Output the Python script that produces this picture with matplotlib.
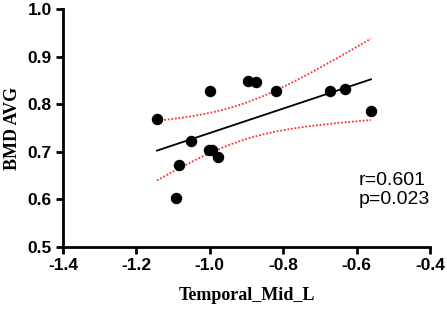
import numpy as np
import matplotlib
matplotlib.use("Agg")
import matplotlib.pyplot as plt

temporal_mid_l = [-1.144, -1.052, -1.000, -0.897, -0.875, -0.820, -0.672, -0.631,
                  -0.561, -1.003, -0.994, -0.977, -1.084, -1.093]
bmd_avg = [0.769, 0.723, 0.828, 0.848, 0.846, 0.828, 0.828, 0.831,
           0.786, 0.704, 0.704, 0.690, 0.673, 0.602]
x_ticks = [-1.4, -1.2, -1.0, -0.8, -0.6, -0.4]
y_ticks = [0.5, 0.6, 0.7, 0.8, 0.9, 1.0]
stats_text = "r=0.601\np=0.023"

x = np.array(temporal_mid_l)
y = np.array(bmd_avg)
n = len(x)
slope, intercept = np.polyfit(x, y, 1)
xs = np.linspace(x.min(), x.max(), 200)
ys = slope * xs + intercept
resid = y - (slope * x + intercept)
s = np.sqrt(np.sum(resid ** 2) / (n - 2))
sxx = np.sum((x - x.mean()) ** 2)
tval = 2.179  # t(0.975, df=12)
se = s * np.sqrt(1.0 / n + (xs - x.mean()) ** 2 / sxx)

fig = plt.figure(figsize=(4.47, 3.11), dpi=100)
ax = fig.add_axes([0.141, 0.206, 0.821, 0.765])

ax.plot(xs, ys + tval * se, linestyle=(0, (1, 1)), color="#ff3030", lw=1.3)
ax.plot(xs, ys - tval * se, linestyle=(0, (1, 1)), color="#ff3030", lw=1.3)
ax.plot(xs, ys, color="black", lw=1.3)
ax.scatter(x, y, s=68, color="black", zorder=3, linewidths=0)

ax.set_xlim(-1.4, -0.4)
ax.set_ylim(0.5, 1.0)
ax.set_xticks(x_ticks)
ax.set_yticks(y_ticks)
ax.set_xticklabels([f"{t:.1f}" for t in x_ticks], fontfamily="Liberation Sans",
                   fontweight="bold", fontsize=12.5)
ax.set_yticklabels([f"{t:.1f}" for t in y_ticks], fontfamily="Liberation Sans",
                   fontweight="bold", fontsize=12.5)
for sp in ["top", "right"]:
    ax.spines[sp].set_visible(False)
for sp in ["left", "bottom"]:
    ax.spines[sp].set_linewidth(2)
ax.tick_params(width=2, length=5, direction="out", pad=3)

ax.set_xlabel("Temporal_Mid_L", fontfamily="Liberation Serif", fontweight="bold",
              fontsize=13, labelpad=10)
ax.set_ylabel("BMD AVG", fontfamily="Liberation Serif", fontweight="bold",
              fontsize=13, labelpad=5)

ax.text(0.805, 0.315, stats_text, transform=ax.transAxes, fontfamily="Liberation Sans",
        fontsize=14, va="top", ha="left", linespacing=1.15)

fig.savefig("out.png", dpi=100)
